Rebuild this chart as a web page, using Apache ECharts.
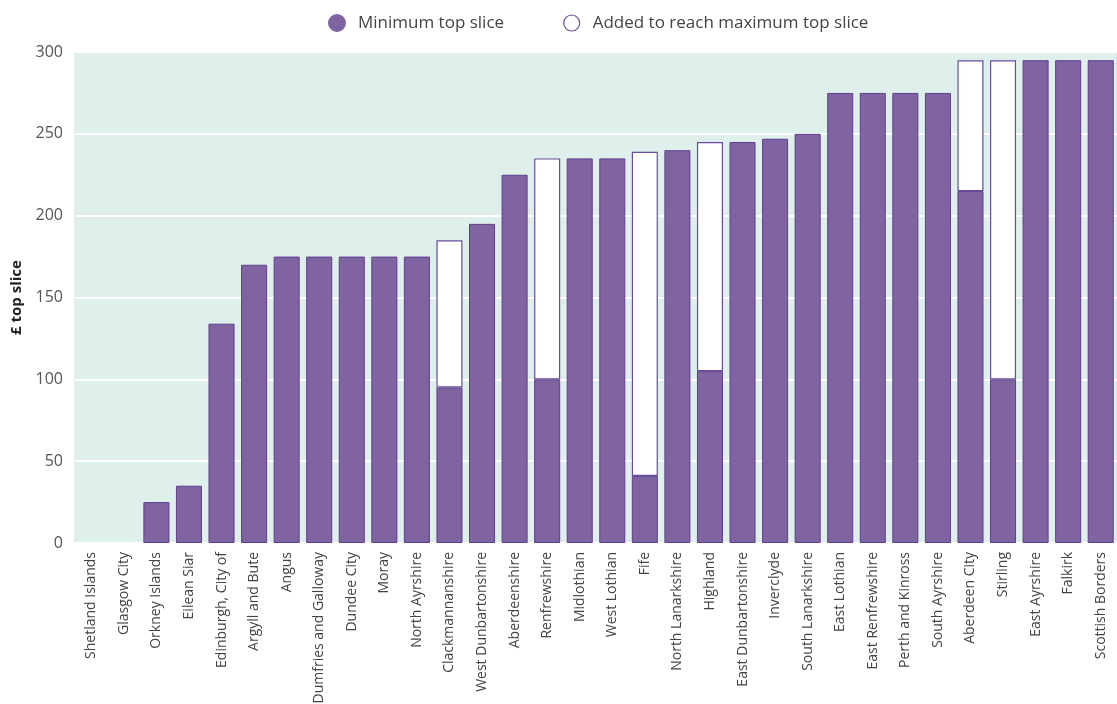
<!DOCTYPE html>
<html><head><meta charset="utf-8">
<script src="https://cdn.jsdelivr.net/npm/echarts@6/dist/echarts.min.js"></script>
<style>html,body{margin:0;padding:0;background:#fff}#c{width:1117px;height:704px}</style>
</head><body><div id="c"></div>
<script>
const categories = ["Shetland Islands","Glasgow City","Orkney Islands","Eilean Siar","Edinburgh, City of","Argyll and Bute","Angus","Dumfries and Galloway","Dundee City","Moray","North Ayrshire","Clackmannanshire","West Dunbartonshire","Aberdeenshire","Renfrewshire","Midlothian","West Lothian","Fife","North Lanarkshire","Highland","East Dunbartonshire","Inverclyde","South Lanarkshire","East Lothian","East Renfrewshire","Perth and Kinross","South Ayrshire","Aberdeen City","Stirling","East Ayrshire","Falkirk","Scottish Borders"];
const minTopSlice = [0,0,25,35,134,170,175,175,175,175,175,95,195,225,100,235,235,41,240,105,245,247,250,275,275,275,275,215,100,295,295,295];
const addedToMax = [0,0,0,0,0,0,0,0,0,0,0,90,0,0,135,0,0,198,0,140,0,0,0,0,0,0,0,80,195,0,0,0];
const yTicks = [0,50,100,150,200,250,300];

const chart = echarts.init(document.getElementById('c'));
const font = "'Open Sans', sans-serif";
chart.setOption({
  animation:false,
  textStyle:{fontFamily:font},
  legend:{
    top:9,left:323,itemGap:59,icon:'circle',itemWidth:16,itemHeight:16,
    textStyle:{fontSize:17,color:'#444',fontFamily:font,padding:[0,0,0,8]},
    data:[
      {name:'Minimum top slice',itemStyle:{color:'#8064a2',borderColor:'#8064a2'}},
      {name:'Added to reach maximum top slice',itemStyle:{color:'#fff',borderColor:'#6a4c9c',borderWidth:1.2}}
    ]
  },
  grid:{left:75,right:0,top:52,bottom:161,containLabel:false,outerBoundsMode:'none',show:true,backgroundColor:'#dff0ec',borderColor:'#cfe7e1',borderWidth:1},
  xAxis:{
    type:'category',data:categories,
    axisLine:{show:false},axisTick:{show:false},
    axisLabel:{rotate:90,interval:0,fontSize:14,color:'#444',margin:9,fontFamily:font}
  },
  yAxis:{
    type:'value',min:0,max:300,interval:50,
    name:'£ top slice',nameLocation:'middle',nameGap:46,
    nameTextStyle:{fontSize:15,fontWeight:'bold',color:'#222',fontFamily:font},
    axisLine:{show:false},axisTick:{show:false},
    axisLabel:{fontSize:16,color:'#555',margin:12,fontFamily:font,formatter:v=>yTicks.includes(v)?String(v):''},
    splitLine:{lineStyle:{color:'#ffffff',width:2}}
  },
  series:[
    {name:'Minimum top slice',type:'bar',stack:'s',data:minTopSlice.map(v=>v===0?null:v),barWidth:'80%',
     itemStyle:{color:'#8064a2',borderColor:'#5f3e8e',borderWidth:1}},
    {name:'Added to reach maximum top slice',type:'bar',stack:'s',
     data:addedToMax.map(v=>v===0?null:v),barWidth:'80%',
     itemStyle:{color:'#ffffff',borderColor:'#6a4c9c',borderWidth:1.2}}
  ]
});
</script></body></html>
